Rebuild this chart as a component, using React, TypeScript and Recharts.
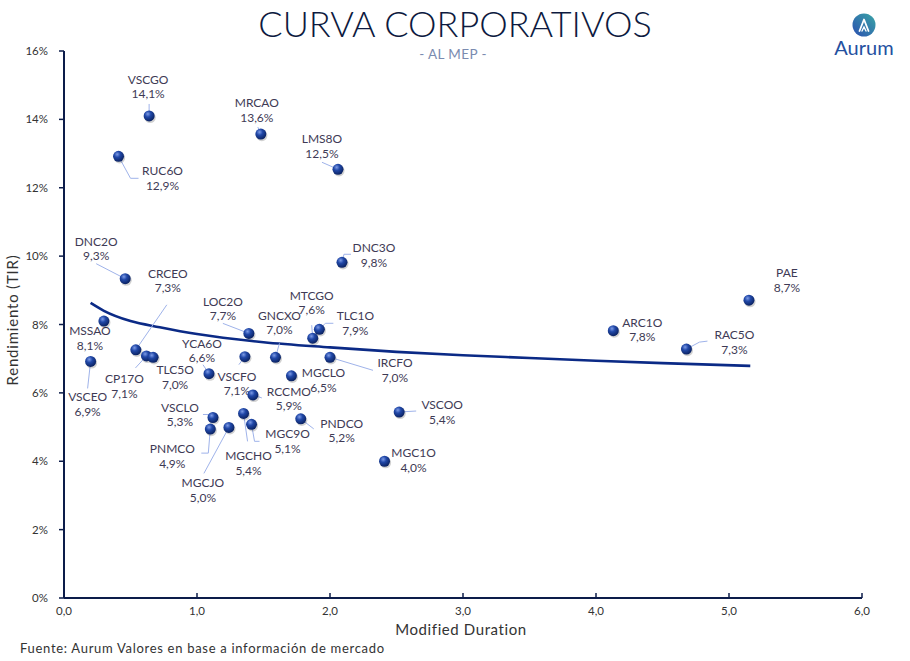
import React from 'react';
import { ComposedChart, Scatter, Line, XAxis, YAxis } from 'recharts';

// ---- Data ----
const bondNames = [
  'VSCGO', 'MRCAO', 'LMS8O', 'RUC6O', 'DNC2O', 'DNC3O', 'MSSAO', 'VSCEO',
  'CRCEO', 'CP17O', 'TLC5O', 'YCA6O', 'LOC2O', 'GNCXO', 'MTCGO', 'TLC1O',
  'VSCFO', 'IRCFO', 'MGCLO', 'RCCMO', 'VSCLO', 'PNMCO', 'MGCJO', 'MGCHO',
  'MGC9O', 'PNDCO', 'VSCOO', 'MGC1O', 'ARC1O', 'RAC5O', 'PAE',
];
const durations = [
  0.64, 1.48, 2.06, 0.41, 0.46, 2.09, 0.30, 0.20,
  0.54, 0.62, 0.67, 1.09, 1.39, 1.59, 1.87, 1.92,
  1.36, 2.0, 1.71, 1.42, 1.12, 1.10, 1.24, 1.35,
  1.41, 1.78, 2.52, 2.41, 4.13, 4.68, 5.15,
];
const yields = [
  14.1, 13.57, 12.54, 12.92, 9.34, 9.82, 8.1, 6.92,
  7.26, 7.08, 7.04, 6.56, 7.74, 7.04, 7.6, 7.86,
  7.06, 7.04, 6.5, 5.94, 5.28, 4.94, 4.99, 5.4,
  5.08, 5.24, 5.44, 4.0, 7.82, 7.28, 8.71,
];
// Trend curve
const trendDurations = [0.2, 0.3, 0.5, 0.72, 1.0, 1.5, 2.0, 2.5, 3.0, 3.5, 4.0, 4.5, 5.16];
const trendYields = [8.63, 8.4, 8.1, 7.92, 7.72, 7.48, 7.33, 7.2, 7.1, 7.02, 6.94, 6.87, 6.79];

const xTicks = [0, 1, 2, 3, 4, 5, 6];
const yTicks = [0, 2, 4, 6, 8, 10, 12, 14, 16];

// ---- Label placement (styling, px offsets relative to the dot) ----
type Lay = { dx: number; dy: number; lead?: number[][] };
const labelLayout: Record<string, Lay> = {
  VSCGO: { dx: -1, dy: -36, lead: [[0, 0], [0, -12]] },
  MRCAO: { dx: -4, dy: -31, lead: [[0, 0], [-3, -7]] },
  LMS8O: { dx: -16, dy: -30, lead: [[0, 0], [-16, -7]] },
  RUC6O: { dx: 44, dy: 15, lead: [[0, 0], [12, 22], [20, 22]] },
  DNC2O: { dx: -29, dy: -37, lead: [[0, 0], [-29, -15]] },
  DNC3O: { dx: 32, dy: -14, lead: [[0, 0], [2, -8], [9, -8]] },
  MSSAO: { dx: -14, dy: 10 },
  VSCEO: { dx: -3, dy: 36, lead: [[0, 0], [-3, 27]] },
  CRCEO: { dx: 32, dy: -76, lead: [[0, 0], [31, -45]] },
  CP17O: { dx: -22, dy: 23.5, lead: [[0, 0], [-11, 12]] },
  TLC5O: { dx: 22, dy: 13 },
  YCA6O: { dx: -7, dy: -30, lead: [[0, 0], [-6, -9]] },
  LOC2O: { dx: -26, dy: -31.5, lead: [[0, 0], [-26, -10]] },
  GNCXO: { dx: 4, dy: -41.5, lead: [[0, 0], [4, -14]] },
  MTCGO: { dx: -1, dy: -42.5, lead: [[0, 0], [-1, -13]] },
  TLC1O: { dx: 36, dy: -13, lead: [[0, 0], [6, -6], [14, -6]] },
  VSCFO: { dx: -8, dy: 20, lead: [[0, 0], [-6, 8]] },
  IRCFO: { dx: 65, dy: 6, lead: [[0, 0], [43, 13]] },
  MGCLO: { dx: 32, dy: -2.5 },
  RCCMO: { dx: 36, dy: -3, lead: [[0, 0], [9, 3]] },
  VSCLO: { dx: -33, dy: -9.5, lead: [[0, 0], [-5, -3], [-10, -3]] },
  PNMCO: { dx: -38, dy: 20, lead: [[0, 0], [-2, 24], [-9, 24]] },
  MGCJO: { dx: -26, dy: 56, lead: [[0, 0], [-25, 46]] },
  MGCHO: { dx: 5, dy: 43, lead: [[0, 0], [4, 28]] },
  MGC9O: { dx: 36, dy: 10, lead: [[0, 0], [3, 17], [8, 17]] },
  PNDCO: { dx: 41, dy: 5, lead: [[0, 0], [13, 10]] },
  VSCOO: { dx: 43, dy: -7, lead: [[0, 0], [17, -1]] },
  MGC1O: { dx: 29, dy: -8 },
  ARC1O: { dx: 29, dy: -8 },
  RAC5O: { dx: 48, dy: -14, lead: [[0, 0], [13, -7], [21, -8]] },
  PAE: { dx: 38, dy: -27 },
};

const bonds = bondNames.map((name, i) => ({ name, x: durations[i], y: yields[i] }));
const trend = trendDurations.map((x, i) => ({ x, y: trendYields[i] }));

const FONT = 'Lato, "Noto Sans", sans-serif';
const NAVY = '#0c1c4a';
const TEXT = '#3e3a55';

const fmtPct = (v: number) => v.toFixed(1).replace('.', ',') + '%';

const LabelShape = (props: any) => {
  const { cx, cy, payload } = props;
  if (cx == null || cy == null || !payload) return <g />;
  const lay = labelLayout[payload.name] || { dx: 0, dy: -20 };
  const lx = cx + lay.dx;
  const ly = cy + lay.dy;
  return (
    <g>
      {lay.lead && (
        <polyline
          points={lay.lead.map((p) => `${cx + p[0]},${cy + p[1]}`).join(' ')}
          fill="none"
          stroke="#9fb3ea"
          strokeWidth={1}
        />
      )}
      <text x={lx} y={ly + 4} textAnchor="middle" fontFamily={FONT} fontSize={12} fill={TEXT}>
        <tspan x={lx}>{payload.name}</tspan>
        <tspan x={lx} dy={14.5}>{fmtPct(payload.y)}</tspan>
      </text>
    </g>
  );
};

const DotShape = (props: any) => {
  const { cx, cy } = props;
  if (cx == null || cy == null) return <g />;
  return (
    <g>
      <circle cx={cx + 1} cy={cy + 1.5} r={5.6} fill="rgba(0,0,0,0.18)" />
      <circle cx={cx} cy={cy} r={5.5} fill="url(#dotGrad)" />
    </g>
  );
};

const XTick = (props: any) => {
  const { x, y, payload } = props;
  return (
    <g>
      <line x1={x} y1={y} x2={x} y2={y - 5} stroke={NAVY} strokeWidth={1.5} />
      <text x={x} y={y + 17} textAnchor="middle" fontFamily={FONT} fontSize={11.5} fill="#333">
        {Number(payload.value).toFixed(1).replace('.', ',')}
      </text>
    </g>
  );
};

export default function App() {
  return (
    <div style={{ position: 'absolute', left: 0, top: 0, width: 910, height: 661, background: '#fff' }}>
      <svg width={0} height={0} style={{ position: 'absolute' }}>
        <defs>
          <radialGradient id="dotGrad" cx="38%" cy="32%" r="70%">
            <stop offset="0%" stopColor="#7d9be6" />
            <stop offset="40%" stopColor="#2148a8" />
            <stop offset="100%" stopColor="#0a215f" />
          </radialGradient>
          <linearGradient id="logoGrad" x1="0%" y1="100%" x2="100%" y2="0%">
            <stop offset="0%" stopColor="#2b4fb0" />
            <stop offset="100%" stopColor="#3aa6a6" />
          </linearGradient>
        </defs>
      </svg>
      <ComposedChart
        width={910}
        height={661}
        margin={{ top: 51, right: 48, bottom: 33, left: 20 }}
      >
        <XAxis
          type="number"
          dataKey="x"
          domain={[0, 6]}
          ticks={xTicks}
          allowDataOverflow
          height={30}
          tickSize={0}
          tickMargin={0}
          tickLine={false}
          axisLine={{ stroke: NAVY, strokeWidth: 2 }}
          tick={<XTick />}
          interval={0}
        />
        <YAxis
          type="number"
          dataKey="y"
          domain={[0, 16]}
          ticks={yTicks}
          allowDataOverflow
          width={44}
          tickSize={5}
          tickMargin={11}
          tickLine={{ stroke: NAVY, strokeWidth: 1.5 }}
          axisLine={{ stroke: NAVY, strokeWidth: 2 }}
          tick={{ fontFamily: FONT, fontSize: 11.5, fill: '#333' }}
          tickFormatter={(v: number) => `${v}%`}
          interval={0}
        />
        <Line
          data={trend}
          dataKey="y"
          type="monotone"
          stroke="#0b2a86"
          strokeWidth={2.6}
          dot={false}
          activeDot={false}
          isAnimationActive={false}
        />
        <Scatter data={bonds} dataKey="y" shape={<LabelShape />} isAnimationActive={false} />
        <Scatter data={bonds} dataKey="y" shape={<DotShape />} isAnimationActive={false} />
      </ComposedChart>
      <svg
        width={910}
        height={661}
        style={{ position: 'absolute', left: 0, top: 0, pointerEvents: 'none' }}
      >
        <text x={455} y={36.5} textAnchor="middle" fontFamily={FONT} fontWeight={300} fontSize={36} fill="#0d1a40">
          CURVA CORPORATIVOS
        </text>
        <text x={453} y={58.5} textAnchor="middle" fontFamily={FONT} fontSize={13.5} letterSpacing={0.4} fill="#7a8bb0">
          - AL MEP -
        </text>
        <text
          x={18}
          y={320}
          textAnchor="middle"
          fontFamily={FONT}
          fontSize={15}
          letterSpacing={0.8}
          fill="#333"
          transform="rotate(-90 18 320)"
        >
          Rendimiento (TIR)
        </text>
        <text x={461} y={635} textAnchor="middle" fontFamily={FONT} fontSize={15} letterSpacing={0.6} fill="#333">
          Modified Duration
        </text>
        <text x={20} y={653} fontFamily={FONT} fontSize={13} letterSpacing={0.7} fill="#333">
          Fuente: Aurum Valores en base a información de mercado
        </text>
        <g>
          <circle cx={864} cy={25} r={11.5} fill="url(#logoGrad)" />
          <path
            d="M859.5,31 L864,19.5 L868.5,31"
            fill="none"
            stroke="#fff"
            strokeWidth={1.8}
            strokeLinejoin="round"
            strokeLinecap="round"
          />
          <path d="M862,31 L864,27 L866,31" fill="none" stroke="#fff" strokeWidth={1.4} strokeLinecap="round" />
          <text x={864} y={55} textAnchor="middle" fontFamily={FONT} fontSize={20} fill="#2450a0">
            Aurum
          </text>
        </g>
      </svg>
    </div>
  );
}
